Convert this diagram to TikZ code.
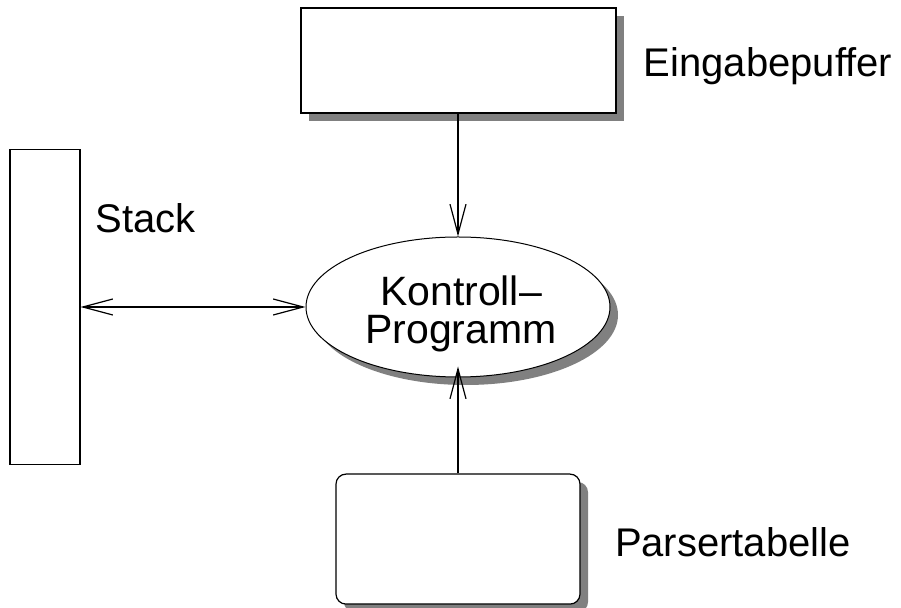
\documentclass[tikz,border=0pt]{standalone}
\usepackage{fontspec}
\setmainfont{Liberation Sans}
\usetikzlibrary{shapes.geometric,arrows.meta,positioning,shadows}

\begin{document}
\begin{tikzpicture}[
    font=\fontsize{20}{18}\selectfont,
    >={Straight Barb[length=15pt,width=8pt]},
    schatten/.style={drop shadow={shadow xshift=4pt, shadow yshift=-4pt, fill=black!50, opacity=1}},
    box/.style={rectangle, draw, fill=white, inner sep=0pt},
    oval/.style={ellipse, draw, fill=white, line width=0.5pt, minimum width=152pt, minimum height=70pt, inner sep=0pt},
    lbl/.style={inner sep=0pt, anchor=base west},
    arr/.style={->, line width=0.6pt},
]
    \useasboundingbox (0,0) rectangle (450.5pt,-304pt);

    \node[oval, schatten, label={[align=center, font=\fontsize{20.5}{19}\selectfont, xshift=1.5pt, yshift=-3.5pt]center:Kontroll–\\Programm}] (kontroll) at (229pt,-153.5pt) {};
    \node[box, schatten, line width=1pt, minimum width=157.5pt, minimum height=52.5pt, above=61pt of kontroll] (puffer) {};
    \node[box, line width=0.7pt, minimum width=35pt, minimum height=157.5pt, left=112.5pt of kontroll] (stack) {};
    \node[box, schatten, rounded corners=5pt, line width=0.6pt, minimum width=122pt, minimum height=65pt, below=48pt of kontroll] (parser) {};

    \node[lbl] (pufferlbl) at ([xshift=13.5pt,yshift=-8pt]puffer.east) {Eingabepuffer};
    \node[lbl] (stacklbl) at ([xshift=7.5pt,yshift=-42pt]stack.north east) {Stack};
    \node[lbl] (parserlbl) at ([xshift=17pt,yshift=-8.5pt]parser.east) {Parsertabelle};

    \draw[arr] (puffer) -- (kontroll);
    \draw[arr, shorten >=-5.5pt] (parser) -- (kontroll);
    \draw[arr, <->] (stack) -- (kontroll);
\end{tikzpicture}
\end{document}
